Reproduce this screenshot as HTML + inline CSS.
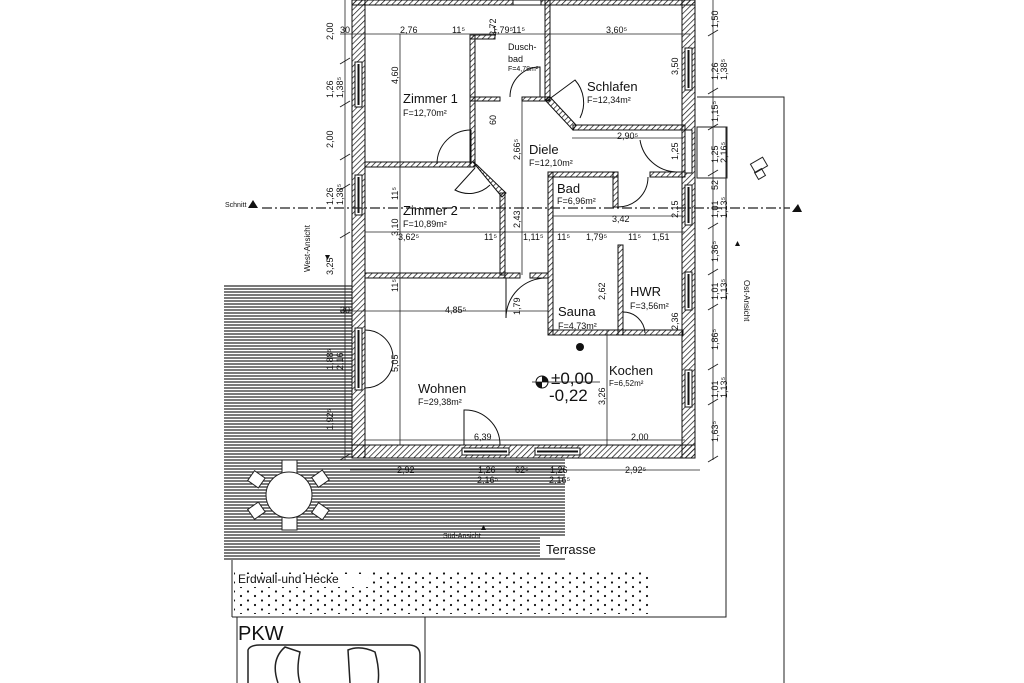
<!DOCTYPE html>
<html><head><meta charset="utf-8"><style>
html,body{margin:0;padding:0;background:#fff;}
svg{display:block;font-family:"Liberation Sans",sans-serif;}
</style></head><body>
<svg width="1024" height="683" viewBox="0 0 1024 683" xmlns="http://www.w3.org/2000/svg">
<defs>
<pattern id="h" width="4" height="4" patternUnits="userSpaceOnUse" patternTransform="rotate(45)"><line x1="0" y1="0" x2="0" y2="4" stroke="#111" stroke-width="1.4"/></pattern>
<pattern id="t" width="6" height="3" patternUnits="userSpaceOnUse"><line x1="0" y1="1" x2="6" y2="1" stroke="#222" stroke-width="1.2"/></pattern>
<pattern id="d" width="14" height="9" patternUnits="userSpaceOnUse"><circle cx="3" cy="2" r="1.1" fill="#111"/><circle cx="10" cy="6.5" r="1.1" fill="#111"/></pattern>
</defs>
<rect width="1024" height="683" fill="#fff"/>
<rect x="224" y="285" width="128" height="173" fill="url(#t)"/>
<rect x="224" y="458" width="341" height="102" fill="url(#t)"/>
<rect x="540" y="537" width="58" height="20" fill="#fff"/>
<rect x="234" y="571" width="416" height="43" fill="url(#d)"/>
<rect x="236" y="574" width="132" height="13" fill="#fff"/>
<g stroke="#222" fill="none" stroke-width="1">
<polyline points="697,127 726,127 726,617 232,617"/>
<polyline points="697,97 784,97 784,683"/>
<rect x="697" y="127" width="30" height="51"/>
<rect x="237" y="617" width="188" height="70"/>
<line x1="232" y1="560" x2="232" y2="617"/>
</g>
<g fill="url(#h)" stroke="#111" stroke-width="1">
<rect x="352" y="0" width="13" height="458"/>
<rect x="682" y="0" width="13" height="458"/>
<rect x="352" y="445" width="343" height="13"/>
<rect x="352" y="0" width="343" height="5"/>
</g>
<g fill="#fff" stroke="#111" stroke-width="1">
<rect x="355" y="62" width="7" height="45"/><line x1="358.5" y1="64" x2="358.5" y2="105" stroke-width="2"/>
<rect x="355" y="175" width="7" height="40"/><line x1="358.5" y1="177" x2="358.5" y2="213" stroke-width="2"/>
<rect x="355" y="328" width="7" height="62"/><line x1="358.5" y1="330" x2="358.5" y2="388" stroke-width="2"/>
<rect x="685" y="48" width="7" height="42"/><line x1="688.5" y1="50" x2="688.5" y2="88" stroke-width="2"/>
<rect x="685" y="130" width="7" height="43"/>
<rect x="685" y="185" width="7" height="40"/><line x1="688.5" y1="187" x2="688.5" y2="223" stroke-width="2"/>
<rect x="685" y="272" width="7" height="38"/><line x1="688.5" y1="274" x2="688.5" y2="308" stroke-width="2"/>
<rect x="685" y="370" width="7" height="37"/><line x1="688.5" y1="372" x2="688.5" y2="405" stroke-width="2"/>
<rect x="462" y="448" width="47" height="7"/><line x1="464" y1="451.5" x2="507" y2="451.5" stroke-width="2"/>
<rect x="535" y="448" width="45" height="7"/><line x1="537" y1="451.5" x2="578" y2="451.5" stroke-width="2"/>
<rect x="513" y="0" width="28" height="5"/>
</g>
<g fill="url(#h)" stroke="#111" stroke-width="1">
<rect x="365" y="162" width="110" height="5"/>
<rect x="470" y="35" width="5" height="132"/>
<rect x="470" y="35" width="25" height="4"/>
<rect x="545" y="0" width="5" height="100"/>
<rect x="470" y="97" width="30" height="4"/>
<rect x="522" y="97" width="28" height="4"/>
<rect x="573" y="125" width="112" height="5"/>
<polygon points="545,100 550,97 576,125 573,130"/>
<polygon points="473,162 477,165 506,193 502,197"/>
<rect x="500" y="193" width="5" height="82"/>
<rect x="365" y="273" width="140" height="5"/>
<rect x="548" y="172" width="5" height="163"/>
<rect x="548" y="172" width="70" height="5"/>
<rect x="613" y="172" width="5" height="35"/>
<rect x="650" y="172" width="35" height="5"/>
<rect x="548" y="330" width="135" height="5"/>
<rect x="618" y="245" width="5" height="90"/>
<rect x="505" y="273" width="15" height="5"/>
<rect x="530" y="273" width="18" height="5"/>
</g>
<g fill="none" stroke="#111" stroke-width="1">
<path d="M471 130 A34 34 0 0 0 437 164"/><line x1="471" y1="130" x2="471" y2="164"/>
<path d="M475 168 L455 190 A30 30 0 0 0 490 185"/>
<path d="M548 100 L575 80 A34 34 0 0 1 580 118"/>
<path d="M540 97 L540 67 A30 30 0 0 0 510 97"/>
<path d="M618 177 L618 207 A30 30 0 0 0 648 177"/>
<path d="M506 278 L506 318 A40 40 0 0 1 546 278"/>
<path d="M623 333 L623 312 A22 22 0 0 1 645 333"/>
<path d="M464 445 L464 410 A35 35 0 0 1 500 445"/>
<path d="M365 330 A28 28 0 0 1 393 358 M365 388 A28 28 0 0 0 393 360"/>
<path d="M640 140 A38 38 0 0 0 676 172"/>
</g>
<g stroke="#222" stroke-width="0.8" fill="none">
<line x1="340" y1="34" x2="690" y2="34"/>
<line x1="365" y1="232" x2="685" y2="232"/>
<line x1="340" y1="311" x2="548" y2="311"/>
<line x1="365" y1="440" x2="685" y2="440"/>
<line x1="350" y1="470" x2="700" y2="470"/>
<line x1="572" y1="138" x2="683" y2="138"/>
<line x1="552" y1="216" x2="683" y2="216"/>
<line x1="345" y1="0" x2="345" y2="460"/>
<line x1="713" y1="0" x2="713" y2="460"/>
<line x1="400" y1="34" x2="400" y2="445"/>
<line x1="522" y1="100" x2="522" y2="275"/>
<line x1="607" y1="330" x2="607" y2="445"/>
</g>
<g stroke="#222" stroke-width="1">
<line x1="340" y1="64" x2="350" y2="58"/><line x1="340" y1="107" x2="350" y2="101"/><line x1="340" y1="160" x2="350" y2="154"/><line x1="340" y1="190" x2="350" y2="184"/><line x1="340" y1="238" x2="350" y2="232"/><line x1="340" y1="460" x2="350" y2="454"/>
<line x1="708" y1="36" x2="718" y2="30"/><line x1="708" y1="94" x2="718" y2="88"/><line x1="708" y1="130" x2="718" y2="124"/><line x1="708" y1="176" x2="718" y2="170"/><line x1="708" y1="229" x2="718" y2="223"/><line x1="708" y1="275" x2="718" y2="269"/><line x1="708" y1="310" x2="718" y2="304"/><line x1="708" y1="370" x2="718" y2="364"/><line x1="708" y1="405" x2="718" y2="399"/><line x1="708" y1="462" x2="718" y2="456"/>
</g>
<line x1="262" y1="208" x2="790" y2="208" stroke="#222" stroke-width="1.2" stroke-dasharray="10,3,2,3"/>
<polygon points="248,208 253,200 258,208" fill="#111"/>
<polygon points="792,212 798,204 802,212" fill="#111"/>
<polygon points="325,255 330,255 327.5,260" fill="#111"/>
<polygon points="735,246 740,246 737.5,241" fill="#111"/>
<polygon points="481,530 486,530 483.5,525" fill="#111"/>
<g fill="#fff" stroke="#222" stroke-width="1">
<rect x="282" y="460" width="15" height="13"/><rect x="282" y="517" width="15" height="13"/>
<rect x="250" y="473" width="13" height="12" transform="rotate(35 256 479)"/>
<rect x="314" y="473" width="13" height="12" transform="rotate(-35 320 479)"/>
<rect x="250" y="505" width="13" height="12" transform="rotate(-35 256 511)"/>
<rect x="314" y="505" width="13" height="12" transform="rotate(35 320 511)"/>
<circle cx="289" cy="495" r="23"/>
</g>
<g fill="none" stroke="#222" stroke-width="1.5">
<path d="M248 683 L248 650 Q250 645 260 645 L410 645 Q420 646 420 655 L420 683"/>
<path d="M278 683 Q270 660 285 647 L300 652 Q296 670 300 683"/>
<path d="M350 683 L348 650 Q360 645 375 652 Q380 670 378 683"/>
</g>
<circle cx="542" cy="382" r="6" fill="#fff" stroke="#111"/>
<path d="M542 376 A6 6 0 0 1 548 382 L542 382Z M542 388 A6 6 0 0 1 536 382 L542 382Z" fill="#111"/>
<line x1="532" y1="382" x2="600" y2="382" stroke="#111" stroke-width="0.8"/>
<circle cx="580" cy="347" r="4" fill="#111"/>
<g fill="#111">
<text x="403" y="103" font-size="13">Zimmer 1</text><text x="403" y="116" font-size="9">F=12,70m²</text>
<text x="587" y="91" font-size="13">Schlafen</text><text x="587" y="103" font-size="9">F=12,34m²</text>
<text x="508" y="50" font-size="9">Dusch-</text><text x="508" y="62" font-size="9">bad</text><text x="508" y="71" font-size="7">F=4,78m²</text>
<text x="529" y="154" font-size="13">Diele</text><text x="529" y="166" font-size="9">F=12,10m²</text>
<text x="557" y="193" font-size="13">Bad</text><text x="557" y="204" font-size="9">F=6,96m²</text>
<text x="403" y="215" font-size="13">Zimmer 2</text><text x="403" y="227" font-size="9">F=10,89m²</text>
<text x="630" y="296" font-size="13">HWR</text><text x="630" y="309" font-size="9">F=3,56m²</text>
<text x="558" y="316" font-size="13">Sauna</text><text x="558" y="329" font-size="9">F=4,73m²</text>
<text x="609" y="375" font-size="13">Kochen</text><text x="609" y="386" font-size="8">F=6,52m²</text>
<text x="418" y="393" font-size="13">Wohnen</text><text x="418" y="405" font-size="9">F=29,38m²</text>
<text x="551" y="384" font-size="17">±0,00</text><text x="549" y="401" font-size="17">-0,22</text>
<text x="546" y="554" font-size="13">Terrasse</text>
<text x="443" y="538" font-size="7">Süd-Ansicht</text>
<text x="238" y="583" font-size="12">Erdwall-und Hecke</text>
<text x="238" y="640" font-size="20">PKW</text>
<text x="225" y="207" font-size="7">Schnitt</text>
<text transform="translate(310,272) rotate(-90)" font-size="8">West-Ansicht</text>
<text transform="translate(744,280) rotate(90)" font-size="8">Ost-Ansicht</text>
</g>
<g fill="#111" font-size="9">
<text x="340" y="33">30</text><text x="400" y="33">2,76</text><text x="452" y="33">11⁵</text><text x="492" y="33">1,79⁵</text><text x="512" y="33">11⁵</text><text x="606" y="33">3,60⁵</text>
<text x="398" y="240">3,62⁵</text><text x="484" y="240">11⁵</text><text x="523" y="240">1,11⁵</text><text x="557" y="240">11⁵</text><text x="586" y="240">1,79⁵</text><text x="628" y="240">11⁵</text><text x="652" y="240">1,51</text>
<text x="617" y="139">2,90⁵</text><text x="612" y="222">3,42</text>
<text x="445" y="313">4,85⁵</text><text x="340" y="313">30</text>
<text x="474" y="440">6,39</text><text x="631" y="440">2,00</text>
<text x="397" y="473">2,92</text><text x="478" y="473">1,26</text><text x="515" y="473">62⁵</text><text x="550" y="473">1,26</text><text x="625" y="473">2,92⁵</text>
<text x="477" y="483">2,16⁵</text><text x="549" y="483">2,16⁵</text>
</g>
<g fill="#111" font-size="9">
<text transform="translate(333,40) rotate(-90)">2,00</text>
<text transform="translate(333,98) rotate(-90)">1,26</text><text transform="translate(343,98) rotate(-90)">1,38⁵</text>
<text transform="translate(333,148) rotate(-90)">2,00</text>
<text transform="translate(333,205) rotate(-90)">1,26</text><text transform="translate(343,205) rotate(-90)">1,38⁵</text>
<text transform="translate(333,275) rotate(-90)">3,25</text>
<text transform="translate(333,370) rotate(-90)">1,88⁵</text><text transform="translate(343,370) rotate(-90)">2,16</text>
<text transform="translate(333,430) rotate(-90)">1,92⁵</text>
<text transform="translate(718,28) rotate(-90)">1,50</text>
<text transform="translate(718,80) rotate(-90)">1,26</text><text transform="translate(727,80) rotate(-90)">1,38⁵</text>
<text transform="translate(718,122) rotate(-90)">1,15⁵</text>
<text transform="translate(718,163) rotate(-90)">1,25</text><text transform="translate(727,163) rotate(-90)">2,16⁵</text>
<text transform="translate(718,190) rotate(-90)">52</text>
<text transform="translate(718,218) rotate(-90)">1,01</text><text transform="translate(727,218) rotate(-90)">1,13⁵</text>
<text transform="translate(718,262) rotate(-90)">1,36⁵</text>
<text transform="translate(718,300) rotate(-90)">1,01</text><text transform="translate(727,300) rotate(-90)">1,13⁵</text>
<text transform="translate(718,350) rotate(-90)">1,86⁵</text>
<text transform="translate(718,398) rotate(-90)">1,01</text><text transform="translate(727,398) rotate(-90)">1,13⁵</text>
<text transform="translate(718,442) rotate(-90)">1,63⁵</text>
<text transform="translate(398,84) rotate(-90)">4,60</text>
<text transform="translate(398,200) rotate(-90)">11⁵</text>
<text transform="translate(398,236) rotate(-90)">3,10</text>
<text transform="translate(398,292) rotate(-90)">11⁵</text>
<text transform="translate(398,372) rotate(-90)">5,05</text>
<text transform="translate(520,160) rotate(-90)">2,66⁵</text>
<text transform="translate(520,228) rotate(-90)">2,43</text>
<text transform="translate(520,315) rotate(-90)">1,79</text>
<text transform="translate(496,125) rotate(-90)">60</text>
<text transform="translate(605,300) rotate(-90)">2,62</text>
<text transform="translate(678,330) rotate(-90)">2,36</text>
<text transform="translate(605,405) rotate(-90)">3,26</text>
<text transform="translate(678,75) rotate(-90)">3,50</text>
<text transform="translate(678,160) rotate(-90)">1,25</text>
<text transform="translate(678,218) rotate(-90)">2,15</text>
<text transform="translate(496,36) rotate(-90)">2,72</text>
</g>
<g stroke="#222" fill="none"><rect x="752" y="160" width="14" height="10" transform="rotate(-30 759 165)"/><rect x="756" y="170" width="8" height="8" transform="rotate(-30 760 174)"/></g>
</svg>
</body></html>
